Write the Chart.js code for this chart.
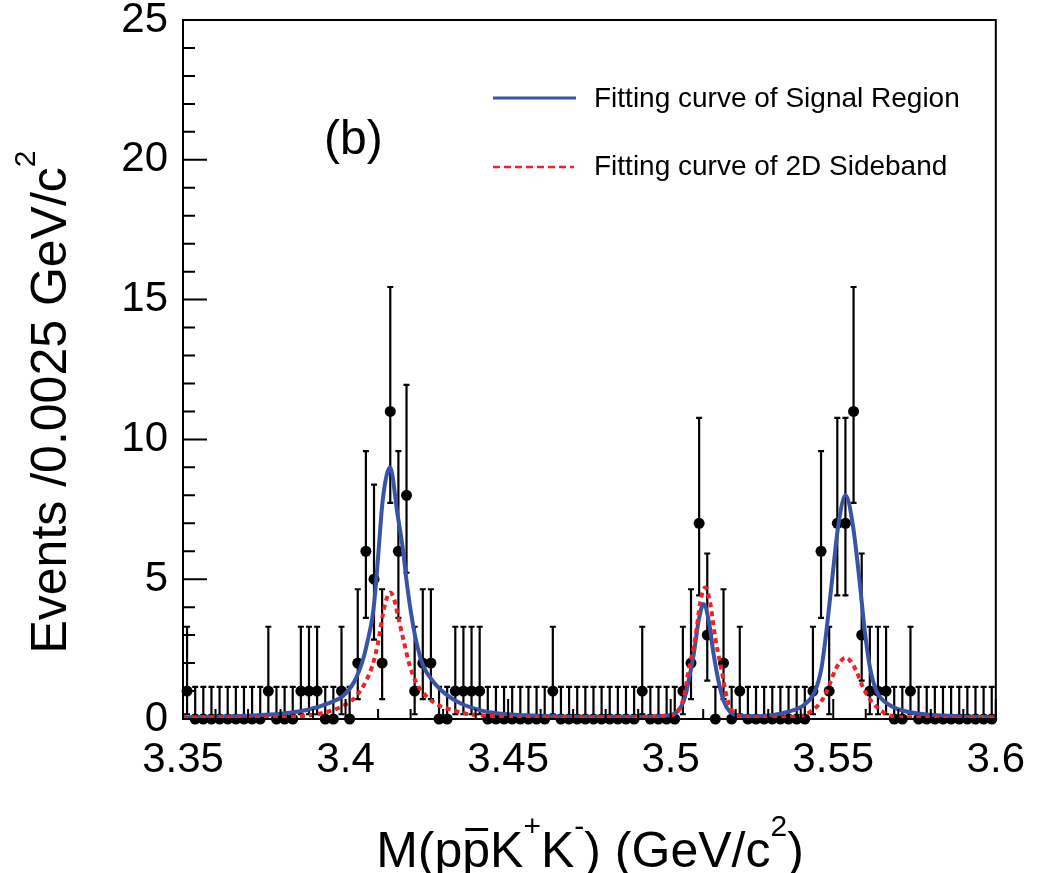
<!DOCTYPE html>
<html>
<head>
<meta charset="utf-8">
<title>M(ppbar K+ K-) fit</title>
<script src="https://cdn.jsdelivr.net/npm/chart.js@4.4.1/dist/chart.umd.min.js"></script>
<style>
  html, body { margin: 0; padding: 0; background: #fff; }
  canvas { display: block; }
</style>
</head>
<body>
<canvas id="massChart" width="1041" height="873"></canvas>
<script>
const FONT = '"Liberation Sans", Arial, Helvetica, sans-serif';

// histogram: 100 bins of 0.0025 GeV/c^2 between 3.35 and 3.6
const binStart = 3.35;
const binWidth = 0.0025;
const counts = [
  1, 0, 0, 0, 0, 0, 0, 0, 0, 0,
  1, 0, 0, 0, 1, 1, 1, 0, 0, 1,
  0, 2, 6, 5, 2, 11, 6, 8, 1, 2,
  2, 0, 0, 1, 1, 1, 1, 0, 0, 0,
  0, 0, 0, 0, 0, 1, 0, 0, 0, 0,
  0, 0, 0, 0, 0, 0, 1, 0, 0, 0,
  0, 1, 2, 7, 3, 0, 2, 0, 1, 0,
  0, 0, 0, 0, 0, 0, 0, 1, 6, 1,
  7, 7, 11, 3, 1, 1, 1, 0, 0, 1,
  0, 0, 0, 0, 0, 0, 0, 0, 0, 0
];

// Poisson 68% interval edges, indexed by bin count
const poissonLow  = [0, 0.17, 0.71, 1.37, 2.09, 2.84, 3.62, 4.42, 5.23, 6.06, 6.89, 7.73];
const poissonHigh = [1.15, 3.30, 4.64, 5.92, 7.16, 8.38, 9.58, 10.77, 11.95, 13.11, 14.27, 15.45];

// fit to the signal region
const signalMass = [
  3.350, 3.360, 3.370, 3.380, 3.388, 3.3951, 3.3992, 3.4028, 3.4053, 3.4068,
  3.4084, 3.4094, 3.4104, 3.4114, 3.4137, 3.4160, 3.4176, 3.4188, 3.4202, 3.4217,
  3.4237, 3.4268, 3.4309, 3.4350, 3.4400, 3.4442, 3.4520, 3.4600, 3.4750, 3.4900,
  3.4994, 3.5019, 3.5040, 3.5055, 3.5071, 3.5086, 3.5101, 3.5117, 3.5132, 3.5147,
  3.5163, 3.5183, 3.5214, 3.5270, 3.5320, 3.5362, 3.5413, 3.5444, 3.5464, 3.5479,
  3.5495, 3.5516, 3.5538, 3.5560, 3.5582, 3.5597, 3.5613, 3.5633, 3.5669, 3.5725,
  3.5800, 3.5900, 3.6000
];
const signalFit = [
  0.06, 0.08, 0.12, 0.19, 0.32, 0.58, 0.82, 1.36, 2.10, 2.80,
  3.75, 4.90, 6.40, 7.80, 9.00, 7.30, 6.10, 4.90, 3.75, 2.80,
  1.96, 1.36, 0.88, 0.58, 0.36, 0.24, 0.15, 0.11, 0.08, 0.08,
  0.13, 0.25, 0.64, 1.36, 2.32, 3.51, 4.11, 3.51, 2.32, 1.36,
  0.64, 0.25, 0.12, 0.10, 0.15, 0.26, 0.53, 1.00, 1.84, 3.15,
  4.82, 6.96, 8.00, 6.96, 4.82, 3.15, 1.84, 1.00, 0.53, 0.27,
  0.15, 0.09, 0.06
];

// fit to the 2D sideband
const sidebandMass = [
  3.350, 3.370, 3.380, 3.388, 3.3945, 3.4002, 3.4033, 3.4063, 3.4084, 3.4099,
  3.4115, 3.4126, 3.4137, 3.4149, 3.4160, 3.4181, 3.4196, 3.4217, 3.4248, 3.4288,
  3.4328, 3.4371, 3.4442, 3.4595, 3.4750, 3.4900, 3.4985, 3.5014, 3.5040, 3.5055,
  3.5076, 3.5091, 3.5106, 3.5121, 3.5137, 3.5157, 3.5173, 3.5198, 3.5230, 3.5300,
  3.5370, 3.5403, 3.5433, 3.5464, 3.5485, 3.5505, 3.5523, 3.5538, 3.5553, 3.5571,
  3.5592, 3.5617, 3.5648, 3.5679, 3.5750, 3.5900, 3.6000
];
const sidebandFit = [
  0.03, 0.04, 0.06, 0.12, 0.26, 0.53, 0.82, 1.36, 1.96, 2.68,
  3.75, 4.30, 4.52, 4.30, 3.75, 2.68, 1.96, 1.31, 0.82, 0.48,
  0.32, 0.19, 0.11, 0.05, 0.04, 0.06, 0.11, 0.18, 0.76, 1.72,
  2.91, 4.18, 4.70, 4.18, 2.91, 1.72, 0.76, 0.18, 0.07, 0.05,
  0.07, 0.11, 0.29, 0.64, 1.12, 1.72, 2.07, 2.20, 2.07, 1.72,
  1.12, 0.64, 0.29, 0.11, 0.05, 0.03, 0.03
];

const xTicks = [3.35, 3.4, 3.45, 3.5, 3.55, 3.6];
const yTicks = [0, 5, 10, 15, 20, 25];
const xMinorStep = 0.01;
const yMinorStep = 1;

const legendLabels = ["Fitting curve of Signal Region", "Fitting curve of 2D Sideband"];
const panelLabel = "(b)";

const BLUE = "#3a54a5";
const RED = "#ec2327";

const binCenters = counts.map((n, i) => binStart + (i + 0.5) * binWidth);
const histPoints = counts.map((n, i) => ({ x: binCenters[i], y: n }));
const signalPoints = signalMass.map((m, i) => ({ x: m, y: signalFit[i] }));
const sidebandPoints = sidebandMass.map((m, i) => ({ x: m, y: sidebandFit[i] }));

// text with superscripts / overline, centred on cx
function drawRich(ctx, parts, cx, baseline) {
  const big = "50px " + FONT;
  const small = "30px " + FONT;
  let total = 0;
  parts.forEach(p => {
    ctx.font = p.sup ? small : big;
    p.w = ctx.measureText(p.t).width;
    total += p.w;
  });
  let x = cx - total / 2;
  ctx.textAlign = "left";
  ctx.textBaseline = "alphabetic";
  parts.forEach(p => {
    ctx.font = p.sup ? small : big;
    ctx.fillText(p.t, x, p.sup ? baseline - 31 : baseline);
    if (p.bar) ctx.fillRect(x + 3, baseline - 39, p.w - 5, 3);
    x += p.w;
  });
}

const errorBars = {
  id: "errorBars",
  beforeDatasetsDraw(chart) {
    const { ctx, scales: { x, y } } = chart;
    ctx.save();
    ctx.strokeStyle = "#000";
    ctx.lineWidth = 2.2;
    counts.forEach((n, i) => {
      const px = x.getPixelForValue(binCenters[i]);
      const top = y.getPixelForValue(poissonHigh[n]);
      const bot = y.getPixelForValue(poissonLow[n]);
      ctx.beginPath();
      ctx.moveTo(px, bot);
      ctx.lineTo(px, top);
      ctx.moveTo(px - 3, top);
      ctx.lineTo(px + 3, top);
      ctx.moveTo(px - 3, bot);
      ctx.lineTo(px + 3, bot);
      ctx.stroke();
    });
    ctx.restore();
  }
};

const frameAndText = {
  id: "frameAndText",
  afterDraw(chart) {
    const { ctx, chartArea: a, scales: { x, y } } = chart;
    ctx.save();
    ctx.strokeStyle = "#000";
    ctx.lineWidth = 2;
    ctx.strokeRect(a.left, a.top, a.right - a.left, a.bottom - a.top);

    // inward ticks on the left and bottom edges
    ctx.beginPath();
    for (let v = 0; v <= 25; v += yMinorStep) {
      const py = y.getPixelForValue(v);
      const len = v % 5 === 0 ? 24 : 12;
      ctx.moveTo(a.left, py);
      ctx.lineTo(a.left + len, py);
    }
    for (let k = 0; k <= 25; k++) {
      const v = binStart + k * xMinorStep;
      const px = x.getPixelForValue(v);
      const len = k % 5 === 0 ? 20 : 10;
      ctx.moveTo(px, a.bottom);
      ctx.lineTo(px, a.bottom - len);
    }
    ctx.stroke();

    ctx.fillStyle = "#000";

    // panel label
    ctx.font = "48px " + FONT;
    ctx.textAlign = "left";
    ctx.textBaseline = "alphabetic";
    ctx.fillText(panelLabel, 324, 154);

    // legend
    const sig = chart.data.datasets[1];
    const sb = chart.data.datasets[2];
    ctx.lineWidth = 3;
    ctx.strokeStyle = sig.borderColor;
    ctx.beginPath();
    ctx.moveTo(493, 98);
    ctx.lineTo(576, 98);
    ctx.stroke();
    ctx.lineWidth = 2.5;
    ctx.strokeStyle = sb.borderColor;
    ctx.setLineDash([7, 4]);
    ctx.beginPath();
    ctx.moveTo(493, 167);
    ctx.lineTo(574, 167);
    ctx.stroke();
    ctx.setLineDash([]);
    ctx.font = "28px " + FONT;
    ctx.fillText(legendLabels[0], 594, 107);
    ctx.fillText(legendLabels[1], 594, 175);

    // axis titles
    drawRich(ctx, [
      { t: "M(p" }, { t: "p", bar: true }, { t: "K" }, { t: "+", sup: true },
      { t: "K" }, { t: "-", sup: true }, { t: ") (GeV/c" }, { t: "2", sup: true }, { t: ")" }
    ], 590, 867);

    ctx.translate(66, 402);
    ctx.rotate(-Math.PI / 2);
    drawRich(ctx, [{ t: "Events /0.0025 GeV/c" }, { t: "2", sup: true }], 0, 0);
    ctx.restore();
  }
};

new Chart(document.getElementById("massChart"), {
  type: "line",
  data: {
    datasets: [
      {
        label: "data",
        data: histPoints,
        showLine: false,
        pointRadius: 5.5,
        pointBackgroundColor: "#000",
        pointBorderWidth: 0,
        clip: false,
        order: 3
      },
      {
        label: legendLabels[0],
        data: signalPoints,
        borderColor: BLUE,
        borderWidth: 4,
        pointRadius: 0,
        cubicInterpolationMode: "monotone",
        fill: false,
        order: 2
      },
      {
        label: legendLabels[1],
        data: sidebandPoints,
        borderColor: RED,
        borderWidth: 4,
        borderDash: [5, 4],
        pointRadius: 0,
        cubicInterpolationMode: "monotone",
        fill: false,
        order: 1
      }
    ]
  },
  options: {
    responsive: false,
    animation: false,
    devicePixelRatio: 1,
    layout: { padding: { top: 20, right: 43, bottom: 0, left: 0 } },
    plugins: {
      legend: { display: false },
      tooltip: { enabled: false }
    },
    events: [],
    scales: {
      x: {
        type: "linear",
        min: 3.35,
        max: 3.6,
        grid: { display: false, drawTicks: false },
        border: { display: false },
        afterBuildTicks: s => { s.ticks = xTicks.map(v => ({ value: v })); },
        afterFit: s => { s.height = 154; },
        ticks: {
          autoSkip: false,
          maxRotation: 0,
          minRotation: 0,
          padding: 16,
          color: "#000",
          font: { family: FONT, size: 42 },
          callback: v => String(Number(v.toFixed(2)))
        }
      },
      y: {
        type: "linear",
        min: 0,
        max: 25,
        grid: { display: false, drawTicks: false },
        border: { display: false },
        afterBuildTicks: s => { s.ticks = yTicks.map(v => ({ value: v })); },
        afterFit: s => { s.width = 183; },
        ticks: {
          padding: 15,
          color: "#000",
          // small line height keeps the top label from pushing the plot down
          font: { family: FONT, size: 42, lineHeight: 0.2 }
        }
      }
    }
  },
  plugins: [errorBars, frameAndText]
});
</script>
</body>
</html>
